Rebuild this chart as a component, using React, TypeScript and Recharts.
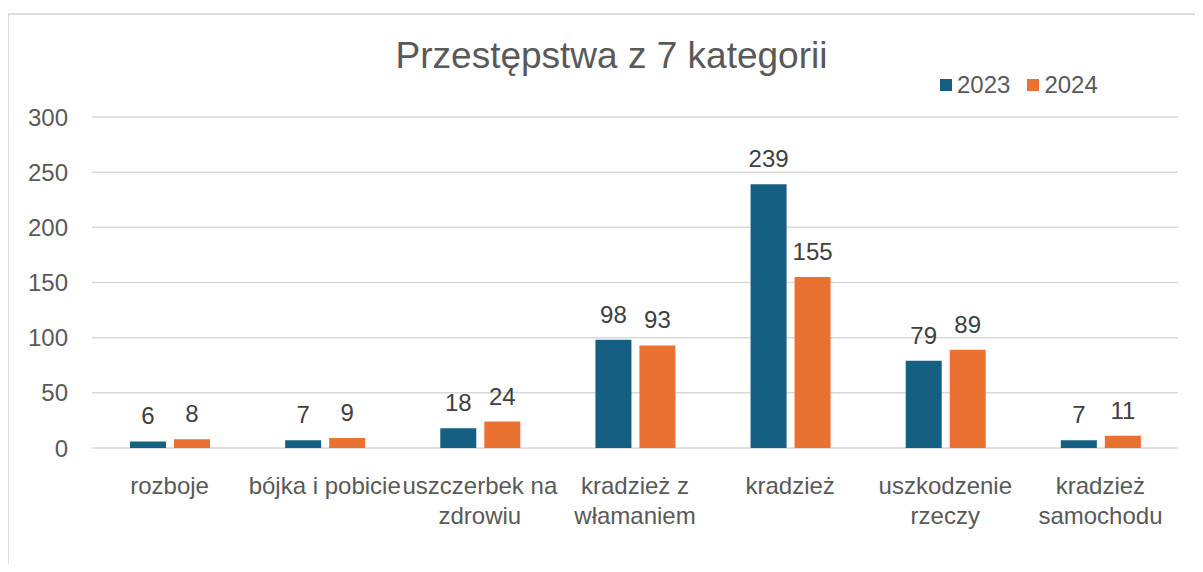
import React from "react";
import { BarChart, Bar, XAxis, YAxis, CartesianGrid, Legend, LabelList } from "recharts";

const categories = [
  "rozboje",
  "bójka i pobicie",
  "uszczerbek na zdrowiu",
  "kradzież z włamaniem",
  "kradzież",
  "uszkodzenie rzeczy",
  "kradzież samochodu",
];
const tickLines: string[][] = [
  ["rozboje"],
  ["bójka i pobicie"],
  ["uszczerbek na", "zdrowiu"],
  ["kradzież z", "włamaniem"],
  ["kradzież"],
  ["uszkodzenie", "rzeczy"],
  ["kradzież", "samochodu"],
];
const values2023 = [6, 7, 18, 98, 239, 79, 7];
const values2024 = [8, 9, 24, 93, 155, 89, 11];
const yTicks = [0, 50, 100, 150, 200, 250, 300];
const seriesNames = ["2023", "2024"];
const title = "Przestępstwa z 7 kategorii";

const COLORS = ["#156082", "#E97132"];
const TEXT = "#595959";
const FONT = "'Liberation Sans', Arial, sans-serif";

const data = categories.map((c, i) => ({
  name: c,
  v2023: values2023[i],
  v2024: values2024[i],
}));

const CategoryTick = (props: any) => {
  const { x, y, payload } = props;
  const idx = categories.indexOf(payload.value);
  const lines = idx >= 0 ? tickLines[idx] : [payload.value];
  return (
    <g transform={`translate(${x},${y})`}>
      {lines.map((l, i) => (
        <text
          key={i}
          x={0}
          y={38 + i * 30}
          textAnchor="middle"
          fill={TEXT}
          fontSize={24}
          fontFamily={FONT}
        >
          {l}
        </text>
      ))}
    </g>
  );
};

const renderLegend = (props: any) => {
  const { payload } = props;
  return (
    <div style={{ display: "flex", alignItems: "center", fontFamily: FONT }}>
      {payload.map((p: any, i: number) => (
        <div key={i} style={{ display: "flex", alignItems: "center", marginRight: 17 }}>
          <div style={{ width: 12, height: 12, background: p.color, marginRight: 5 }} />
          <span style={{ fontSize: 24, color: TEXT, lineHeight: "24px" }}>{p.value}</span>
        </div>
      ))}
    </div>
  );
};

export default function App() {
  return (
    <div
      style={{
        position: "relative",
        width: 1203,
        height: 572,
        margin: -8,
        overflow: "hidden",
        background: "#fff",
      }}
    >
      <div
        style={{
          position: "absolute",
          left: 7,
          top: 13,
          width: 1400,
          height: 800,
          border: "2px solid #DDDDDD",
          boxSizing: "border-box",
        }}
      />
      <div
        style={{
          position: "absolute",
          left: 0,
          top: 34,
          width: 1223,
          textAlign: "center",
          fontFamily: FONT,
          fontSize: 37,
          color: TEXT,
          lineHeight: "44px",
          whiteSpace: "nowrap",
        }}
      >
        {title}
      </div>
      <div style={{ position: "absolute", left: 0, top: 0 }}>
        <BarChart
          width={1203}
          height={572}
          data={data}
          margin={{ top: 117, right: 25, bottom: 0, left: 0 }}
          barSize={36}
          barGap={8}
        >
          <CartesianGrid horizontal vertical={false} stroke="#D9D9D9" strokeWidth={1.5} />
          <XAxis
            dataKey="name"
            axisLine={false}
            tickLine={false}
            interval={0}
            tick={<CategoryTick />}
            height={124}
          />
          <YAxis
            domain={[0, 300]}
            ticks={yTicks}
            interval={0}
            axisLine={false}
            tickLine={false}
            tickSize={0}
            tickMargin={24}
            width={92}
            tick={{ fill: TEXT, fontSize: 24, fontFamily: FONT }}
          />
          <Legend
            content={renderLegend}
            wrapperStyle={{ position: "absolute", top: 73, left: 940, width: 300, height: 0, overflow: "visible" }}
          />
          <Bar dataKey="v2023" name={seriesNames[0]} fill={COLORS[0]} isAnimationActive={false}>
            <LabelList
              dataKey="v2023"
              position="top"
              offset={17}
              fill="#404040"
              fontSize={24}
              fontFamily={FONT}
            />
          </Bar>
          <Bar dataKey="v2024" name={seriesNames[1]} fill={COLORS[1]} isAnimationActive={false}>
            <LabelList
              dataKey="v2024"
              position="top"
              offset={17}
              fill="#404040"
              fontSize={24}
              fontFamily={FONT}
            />
          </Bar>
        </BarChart>
      </div>
    </div>
  );
}
